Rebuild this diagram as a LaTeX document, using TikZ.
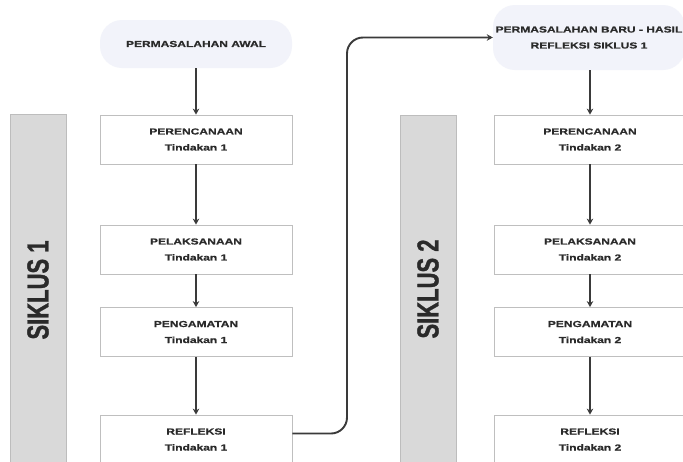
\documentclass[tikz,border=0pt]{standalone}
\usepackage{fontspec}
\setmainfont{Liberation Sans}
\newfontfamily\boxfont[FakeStretch=1.38,FakeBold=0.6]{Liberation Sans}
\newfontfamily\bigfont[FakeBold=1.2]{Liberation Sans}
\usetikzlibrary{arrows.meta}
\definecolor{pillfill}{HTML}{F2F3FA}
\definecolor{barfill}{HTML}{D9D9D9}
\definecolor{barline}{HTML}{BDBDBD}
\definecolor{boxline}{HTML}{BFBFBF}
\definecolor{ink}{HTML}{2A2A2A}
\definecolor{arrowink}{HTML}{3A3A3A}
\tikzset{
 txt/.style={align=center, text=ink, font=\boxfont\bfseries\fontsize{8.7}{16}\selectfont},
 stepbox/.style={txt, draw=boxline, line width=0.8pt, fill=white, minimum width=192pt, minimum height=49pt, inner sep=0pt},
 pill/.style={txt, fill=pillfill, rounded corners=22pt, minimum width=192pt, inner sep=0pt},
 bar/.style={draw=barline, fill=barfill, line width=0.6pt, minimum width=56pt, minimum height=350pt, inner sep=0pt, anchor=north west},
 flow/.style={draw=arrowink, line width=1.9pt, -{Stealth[length=6pt,width=6.5pt]}},
 siklus/.style={text=ink, inner sep=0pt, font=\bigfont\bfseries\fontsize{22}{22}\selectfont}
}
\begin{document}
\begin{tikzpicture}[x=1pt,y=-1pt]
\useasboundingbox (0,0) rectangle (683,461);
\clip (0,0) rectangle (683,461);
\fill[white] (0,0) rectangle (683,461);
% bars
\node[bar] (bar1) at (10,114) {};
\node[bar] (bar2) at (400,115) {};
\node[siklus] (s1) at (38,290) {\rotatebox{90}{\scalebox{1}[1.38]{SIKLUS 1}}};
\node[siklus] (s2) at (428,289) {\rotatebox{90}{\scalebox{1}[1.38]{SIKLUS 2}}};
% left column
\node[pill, minimum height=48pt] (p1) at (196,44) {PERMASALAHAN AWAL};
\node[stepbox] (a1) at (196,139.5) {PERENCANAAN\\Tindakan 1};
\node[stepbox] (a2) at (196,249.5) {PELAKSANAAN\\Tindakan 1};
\node[stepbox] (a3) at (196,332) {PENGAMATAN\\Tindakan 1};
\node[stepbox] (a4) at (196,439.5) {REFLEKSI\\Tindakan 1};
% right column
\node[pill, minimum height=65pt] (p2) at (589,37.5) {PERMASALAHAN BARU - HASIL\\REFLEKSI SIKLUS 1};
\node[stepbox] (b1) at (590,139.5) {PERENCANAAN\\Tindakan 2};
\node[stepbox] (b2) at (590,249.5) {PELAKSANAAN\\Tindakan 2};
\node[stepbox] (b3) at (590,332) {PENGAMATAN\\Tindakan 2};
\node[stepbox] (b4) at (590,439.5) {REFLEKSI\\Tindakan 2};
% arrows
\draw[flow] (p1) -- (a1);
\draw[flow] (a1) -- (a2);
\draw[flow] (a2) -- (a3);
\draw[flow] (a3) -- (a4);
\draw[flow] (p2.south -| b1.north) -- (b1);
\draw[flow] (b1) -- (b2);
\draw[flow] (b2) -- (b3);
\draw[flow] (b3) -- (b4);
\coordinate (bend) at (347,0);
\draw[flow, rounded corners=16pt] ([yshift=6pt]a4.east) -| (bend |- p2.west) -- (p2.west);
\end{tikzpicture}
\end{document}
